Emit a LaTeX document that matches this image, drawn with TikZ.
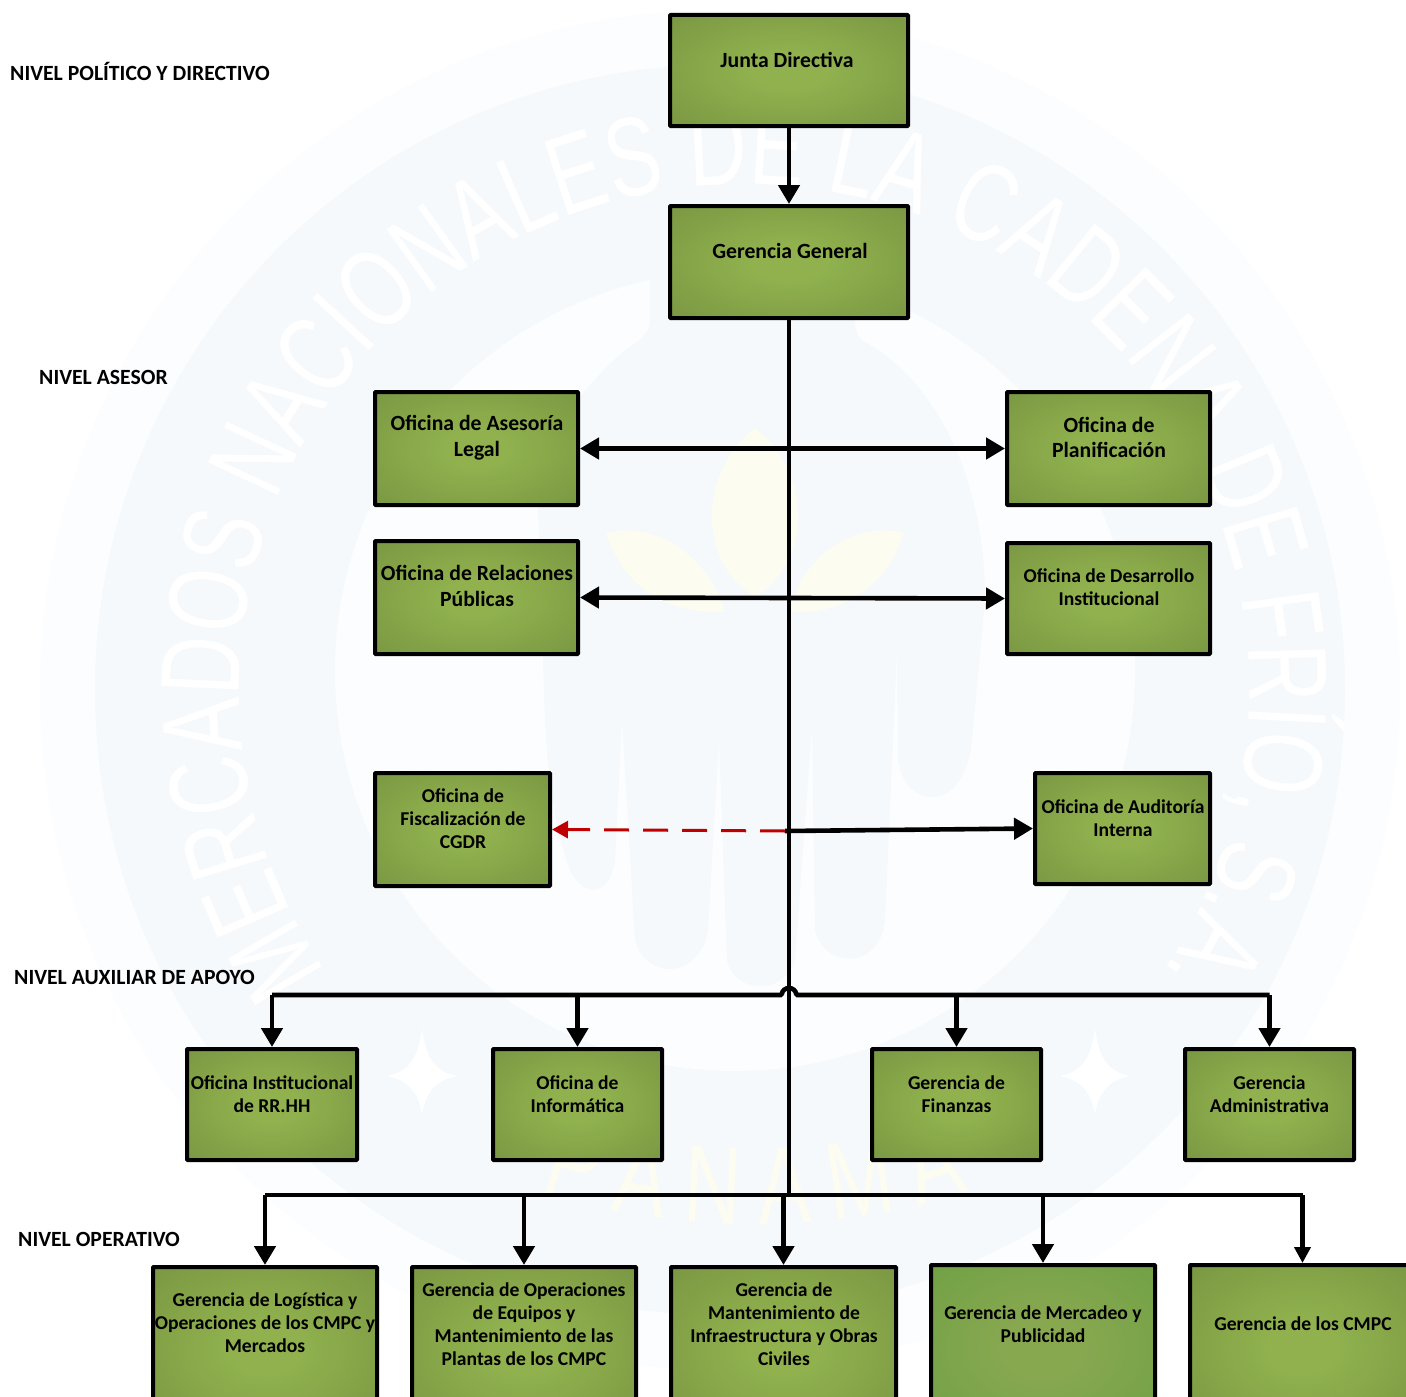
\documentclass[tikz,border=0pt]{standalone}
\usepackage{fontspec}
\setmainfont{Carlito}
\newfontfamily\wmfont[FakeStretch=0.72]{Liberation Sans}
\usetikzlibrary{arrows.meta,decorations.text}
\definecolor{wmblue}{HTML}{F5F9FC}
\definecolor{wmpale}{HTML}{FCFDFE}
\definecolor{wmyel}{HTML}{FDFCF1}
\definecolor{boxc}{HTML}{90B14E}
\definecolor{boxm}{HTML}{7D9B44}
\definecolor{boxe}{HTML}{6E893A}
\definecolor{mkc}{HTML}{88A850}
\definecolor{mkm}{HTML}{74A247}
\definecolor{mke}{HTML}{5E983E}
\definecolor{redl}{HTML}{C00000}
\pgfdeclareradialshading{orgsh}{\pgfpoint{0bp}{0bp}}{color(0bp)=(boxc); color(8bp)=(boxc); color(32bp)=(boxm); color(50bp)=(boxe); color(100bp)=(boxe)}
\pgfdeclareradialshading{mksh}{\pgfpoint{0bp}{0bp}}{color(0bp)=(mkc); color(8bp)=(mkc); color(32bp)=(mkm); color(50bp)=(mke); color(100bp)=(mke)}
\newcommand{\bigt}{\fontsize{21.7}{25.5}\selectfont}
\tikzset{
  x=1pt,y=-1pt,
  orgbox/.style={rectangle,draw=black,line width=4pt,rounded corners=0.8pt,inner sep=0pt,
     shade,shading=orgsh},
  mkbox/.style={orgbox,shading=mksh},
  lbl/.style={font=\bfseries\fontsize{19.6}{23}\selectfont,align=center,inner sep=0pt,text=black},
  lvl/.style={font=\bfseries\bigt,anchor=base west,inner sep=0pt,text=black},
  conn/.style={line width=4.6pt,draw=black},
  arr/.style={conn,-{Triangle[length=19pt,width=21pt]}},
  arrs/.style={conn,-{Triangle[length=16pt,width=16pt]}},
  darr/.style={conn,{Triangle[length=19pt,width=21pt]}-{Triangle[length=19pt,width=21pt]}},
  redarr/.style={line width=3pt,draw=redl,dash pattern=on 25pt off 14pt,-{Triangle[length=16pt,width=17pt]}},
}
\newcommand{\orgnode}[9][orgbox]{%
  \node[#1,minimum width=#5pt-#3pt,minimum height=#6pt-#4pt] (#2) at ({(#3+#5)/2},{(#4+#6)/2}) {};
  \node[lbl] (#2t) at (#7,#8) {#9};}
\newcommand{\wmstar}[2]{%
  \fill[white] (#1,#2-48) .. controls (#1+4,#2-15) and (#1+15,#2-4) .. (#1+35,#2) .. controls (#1+15,#2+4) and (#1+4,#2+15) .. (#1,#2+38) .. controls (#1-4,#2+15) and (#1-15,#2+4) .. (#1-35,#2) .. controls (#1-15,#2-4) and (#1-4,#2-15) .. (#1,#2-48) -- cycle;}
\begin{document}
\begin{tikzpicture}
\useasboundingbox (0,0) rectangle (1406,1397);
\fill[white] (0,0) rectangle (1406,1397);
\begin{scope}
\clip (0,0) rectangle (1406,1397);
\fill[wmpale] (720,690) circle[radius=680];
\fill[wmblue] (720,690) circle[radius=625];
\fill[wmpale] (735,671) circle[radius=400];
\fill[wmblue] (650,200) -- (650,320) .. controls (650,335) and (640,340) .. (625,350)
  .. controls (580,390) and (540,440) .. (538,505) -- (545,720) .. controls (548,780) and (555,830) .. (570,870)
  .. controls (585,900) and (610,895) .. (615,860) -- (622,719) -- (635,940) .. controls (645,980) and (700,980) .. (708,930)
  -- (719,740) -- (727,960) .. controls (735,995) and (785,995) .. (795,960) -- (812,727) -- (815,930)
  .. controls (825,970) and (880,970) .. (885,920) -- (897,650) -- (898,760) .. controls (905,810) and (965,815) .. (972,740)
  -- (985,600) .. controls (985,470) and (930,380) .. (870,345) .. controls (860,340) and (855,335) .. (855,320) -- (855,200) -- cycle;
\fill[wmyel] (755,428) .. controls (700,470) and (695,560) .. (755,597) .. controls (815,560) and (810,470) .. (755,428) -- cycle;
\fill[wmyel] (606,533) .. controls (660,520) and (710,560) .. (725,612) .. controls (670,615) and (625,590) .. (606,533) -- cycle;
\fill[wmyel] (904,533) .. controls (850,520) and (800,560) .. (790,612) .. controls (840,615) and (885,590) .. (904,533) -- cycle;
\wmstar{422}{1076}
\wmstar{1095}{1076}
\path[decorate,decoration={text along path,text align={fit to path},
  text={|\wmfont\fontsize{112}{112}\selectfont\color{white}|MERCADOS NACIONALES DE LA CADENA DE FRÍO, S.A.}}]
  (326,972) arc[start angle=146,end angle=394,radius=505];
\path[decorate,decoration={text along path,text align={fit to path},
  text={|\wmfont\fontsize{110}{110}\selectfont\color{wmyel}|PANAMA}}]
  (540,1190) .. controls (650,1235) and (860,1235) .. (968,1190);
\end{scope}
\orgnode{junta}{670}{15}{908}{126}{787}{60}{\bigt Junta Directiva}
\orgnode{gg}{670}{206}{908}{318}{790}{251}{\bigt Gerencia General}
\orgnode{legal}{375}{392}{578}{505}{477}{437.5}{\bigt Oficina de Asesoría\\[2.5pt]\bigt Legal}
\orgnode{plan}{1007}{392}{1210}{505}{1109}{437.5}{\bigt Oficina de\\[2.5pt]\bigt Planificación}
\orgnode{rel}{375}{541}{578}{654}{477}{586}{\bigt Oficina de Relaciones\\[3pt]\bigt Públicas}
\orgnode{des}{1007}{543}{1210}{654}{1109}{587}{Oficina de Desarrollo\\Institucional}
\orgnode{fis}{375}{773}{550}{886}{463}{819}{Oficina de\\Fiscalización de\\CGDR}
\orgnode{aud}{1035}{773}{1210}{884}{1123}{818}{Oficina de Auditoría\\Interna}
\orgnode{rrhh}{187}{1049}{357}{1160}{272}{1094}{Oficina Institucional\\de RR.HH}
\orgnode{inf}{493}{1049}{662}{1160}{577.5}{1094}{Oficina de\\Informática}
\orgnode{fin}{872}{1049}{1041}{1160}{956.5}{1094}{Gerencia de\\Finanzas}
\orgnode{adm}{1185}{1049}{1354}{1160}{1269.5}{1094}{Gerencia\\Administrativa}
\orgnode{log}{153}{1267}{377}{1430}{265}{1323}{Gerencia de Logística y\\Operaciones de los CMPC y\\Mercados}
\orgnode{ope}{412}{1267}{636}{1430}{524}{1324}{Gerencia de Operaciones\\de Equipos y\\Mantenimiento de las\\Plantas de los CMPC}
\orgnode{man}{671}{1267}{896}{1430}{784}{1324}{Gerencia de\\Mantenimiento de\\Infraestructura y Obras\\Civiles}
\orgnode[mkbox]{mer}{931}{1265}{1155}{1430}{1043}{1324}{Gerencia de Mercadeo y\\Publicidad}
\orgnode{cmpc}{1190}{1265}{1415}{1430}{1303}{1324}{Gerencia de los CMPC}
\node[lvl] (n1) at (10,81) {NIVEL POLÍTICO Y DIRECTIVO};
\node[lvl] (n2) at (39,384) {NIVEL ASESOR};
\node[lvl] (n3) at (14,984) {NIVEL AUXILIAR DE APOYO};
\node[lvl] (n4) at (18,1246) {NIVEL OPERATIVO};
\coordinate (jaud) at (785,831);
\coordinate (bus1) at (789,995);
\coordinate (bus2) at (789,1195);
\draw[arr] (junta.south) -- (gg.north);
\draw[conn] (gg.south) -- (bus2);
\draw[darr] (legal.east) -- (plan.west);
\draw[darr] (rel.east) -- (des.west);
\draw[redarr] (jaud) -- (fis.east);
\draw[arr] (jaud) -- (aud.west);
\draw[conn,rounded corners=1.5pt] (rrhh.north |- bus1) -- (782,995) arc[start angle=180,end angle=360,radius=7] -- (adm.north |- bus1);
\draw[arr] (rrhh.north |- bus1) -- (rrhh.north);
\draw[arr] (inf.north |- bus1) -- (inf.north);
\draw[arr] (fin.north |- bus1) -- (fin.north);
\draw[arr] (adm.north |- bus1) -- (adm.north);
\draw[conn] (log.north |- bus2) -- (cmpc.north |- bus2);
\draw[arr] (log.north |- bus2) -- (log.north);
\draw[arr] (ope.north |- bus2) -- (ope.north);
\draw[arr] (man.north |- bus2) -- (man.north);
\draw[arr] (mer.north |- bus2) -- (mer.north);
\draw[arrs] (cmpc.north |- bus2) -- (cmpc.north);
\end{tikzpicture}
\end{document}
